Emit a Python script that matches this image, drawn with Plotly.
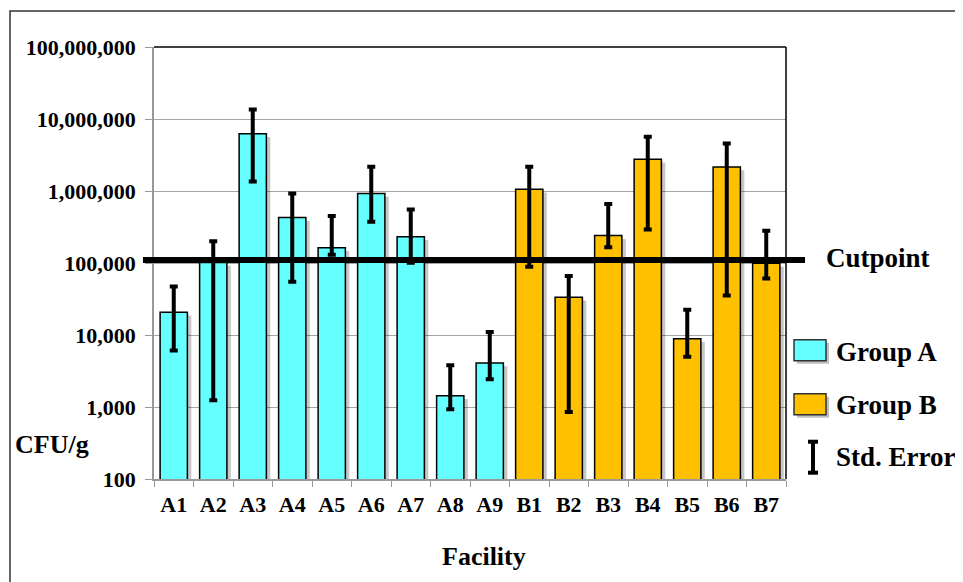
import plotly.graph_objects as go

# ---------------- data ----------------
group_a_labels = ["A1", "A2", "A3", "A4", "A5", "A6", "A7", "A8", "A9"]
group_a_values = [20700, 102000, 6250000, 430000, 163000, 925000, 232000, 1430, 4080]
group_a_err_hi = [47000, 200000, 13600000, 925000, 449000, 2180000, 554000, 3790, 10970]
group_a_err_lo = [6100, 1240, 1360000, 55000, 130000, 374000, 101000, 933, 2430]

group_b_labels = ["B1", "B2", "B3", "B4", "B5", "B6", "B7"]
group_b_values = [1060000, 33500, 240000, 2770000, 8900, 2160000, 99000]
group_b_err_hi = [2180000, 66200, 658000, 5690000, 22400, 4550000, 281000]
group_b_err_lo = [89000, 855, 165000, 293000, 5000, 35300, 60800]

cutpoint = 110000
y_tickvals = [100, 1000, 10000, 100000, 1000000, 10000000, 100000000]
y_ticktext = ["100", "1,000", "10,000", "100,000", "1,000,000", "10,000,000", "100,000,000"]

# ---------------- styling ----------------
OFF = 8  # page body margin
W, H = 963 - OFF, 582 - OFF
L, R, T, B = 154, 786, 47, 479.3   # screen coordinates of plot area
FONT = "Liberation Serif"
CYAN = "#66FFFF"
ORANGE = "#FFC000"


def px(x):
    return (x - L) / (R - L)


def py(y):
    return (B - y) / (B - T)


def err(vals, hi, lo):
    return dict(type="data", symmetric=False,
                array=[h - v for h, v in zip(hi, vals)],
                arrayminus=[v - l for l, v in zip(lo, vals)],
                color="black", thickness=4, width=4)


BAR_W = 0.69
fig = go.Figure()
# soft drop shadows (styling)
for labels, vals in ((group_a_labels, group_a_values), (group_b_labels, group_b_values)):
    fig.add_trace(go.Bar(x=labels, y=[v * 0.9 for v in vals], width=BAR_W,
                         offset=-BAR_W / 2 + 0.1,
                         marker=dict(color="rgba(0,0,0,0.22)", line=dict(width=0)),
                         hoverinfo="skip", showlegend=False))
fig.add_trace(go.Bar(x=group_a_labels, y=group_a_values, name="Group A",
                     marker=dict(color=CYAN, line=dict(color="black", width=1.5)),
                     error_y=err(group_a_values, group_a_err_hi, group_a_err_lo),
                     width=BAR_W, offset=-BAR_W / 2, showlegend=False))
fig.add_trace(go.Bar(x=group_b_labels, y=group_b_values, name="Group B",
                     marker=dict(color=ORANGE, line=dict(color="black", width=1.5)),
                     error_y=err(group_b_values, group_b_err_hi, group_b_err_lo),
                     width=BAR_W, offset=-BAR_W / 2, showlegend=False))

shapes = []
# outer frame
shapes.append(dict(type="rect", xref="paper", yref="paper",
                   x0=px(10), x1=px(990), y0=py(610), y1=py(11),
                   line=dict(color="#333333", width=1.5), layer="below"))
# plot area top/right borders
shapes.append(dict(type="line", xref="paper", yref="paper", x0=0, x1=1, y0=1, y1=1,
                   line=dict(color="black", width=1.5)))
shapes.append(dict(type="line", xref="paper", yref="paper", x0=1, x1=1, y0=0, y1=1,
                   line=dict(color="black", width=1.5)))
# cutpoint line
shapes.append(dict(type="line", xref="paper", yref="y", x0=px(143), x1=px(805),
                   y0=cutpoint, y1=cutpoint, line=dict(color="black", width=6)))
# legend boxes
shapes.append(dict(type="rect", xref="paper", yref="paper", x0=px(797), x1=px(829),
                   y0=py(364), y1=py(343), fillcolor="rgba(0,0,0,0.25)", line=dict(width=0)))
shapes.append(dict(type="rect", xref="paper", yref="paper", x0=px(797), x1=px(829),
                   y0=py(418), y1=py(397), fillcolor="rgba(0,0,0,0.25)", line=dict(width=0)))
shapes.append(dict(type="rect", xref="paper", yref="paper", x0=px(794), x1=px(826),
                   y0=py(361), y1=py(340), fillcolor=CYAN,
                   line=dict(color="#333333", width=1.5)))
shapes.append(dict(type="rect", xref="paper", yref="paper", x0=px(794), x1=px(826),
                   y0=py(415), y1=py(394), fillcolor=ORANGE,
                   line=dict(color="#333333", width=1.5)))
# std error symbol
shapes.append(dict(type="line", xref="paper", yref="paper", x0=px(813), x1=px(813),
                   y0=py(473), y1=py(442), line=dict(color="black", width=4)))
for yy in (442, 473):
    shapes.append(dict(type="line", xref="paper", yref="paper", x0=px(808), x1=px(818),
                       y0=py(yy), y1=py(yy), line=dict(color="black", width=4)))

annotations = []


def txt(text, x, y, size, xanchor="left"):
    annotations.append(dict(text=text, xref="paper", yref="paper", x=px(x), y=py(y),
                            xanchor=xanchor, yanchor="middle", showarrow=False,
                            font=dict(family=FONT, size=size, color="black")))


txt("<b>Cutpoint</b>", 824, 258, 27)
txt("<b>Group A</b>", 834, 352, 27)
txt("<b>Group B</b>", 834, 405, 27)
txt("<b>Std. Error</b>", 834, 457, 27)
txt("<b>CFU/g</b>", 13, 445, 26)
txt("<b>Facility</b>", 484, 557, 26, xanchor="center")

fig.update_layout(
    width=W, height=H,
    margin=dict(l=L - OFF, r=W - (R - OFF), t=T - OFF, b=H - (B - OFF), autoexpand=False),
    paper_bgcolor="white", plot_bgcolor="white",
    barmode="overlay",
    shapes=shapes, annotations=annotations,
    font=dict(family=FONT, color="black"),
)
fig.update_xaxes(
    categoryorder="array", categoryarray=group_a_labels + group_b_labels,
    showline=True, linecolor="#999999", linewidth=1.5,
    ticks="outside", tickson="boundaries", ticklen=6, tickcolor="#999999",
    tickfont=dict(family=FONT, size=22, color="black"),
    ticklabelstandoff=5,
    tickprefix="<b>", ticksuffix="</b>",
    showgrid=False, zeroline=False,
)
fig.update_yaxes(
    type="log", range=[2, 8],
    tickvals=y_tickvals, ticktext=["<b>" + t + "</b>" for t in y_ticktext],
    showline=True, linecolor="#999999", linewidth=1.5,
    ticks="outside", ticklen=7, tickcolor="#999999",
    tickfont=dict(family=FONT, size=22, color="black"),
    ticklabelstandoff=5,
    showgrid=True, gridcolor="#A6A6A6", gridwidth=1,
    zeroline=False,
)

fig.write_html("out.html")
